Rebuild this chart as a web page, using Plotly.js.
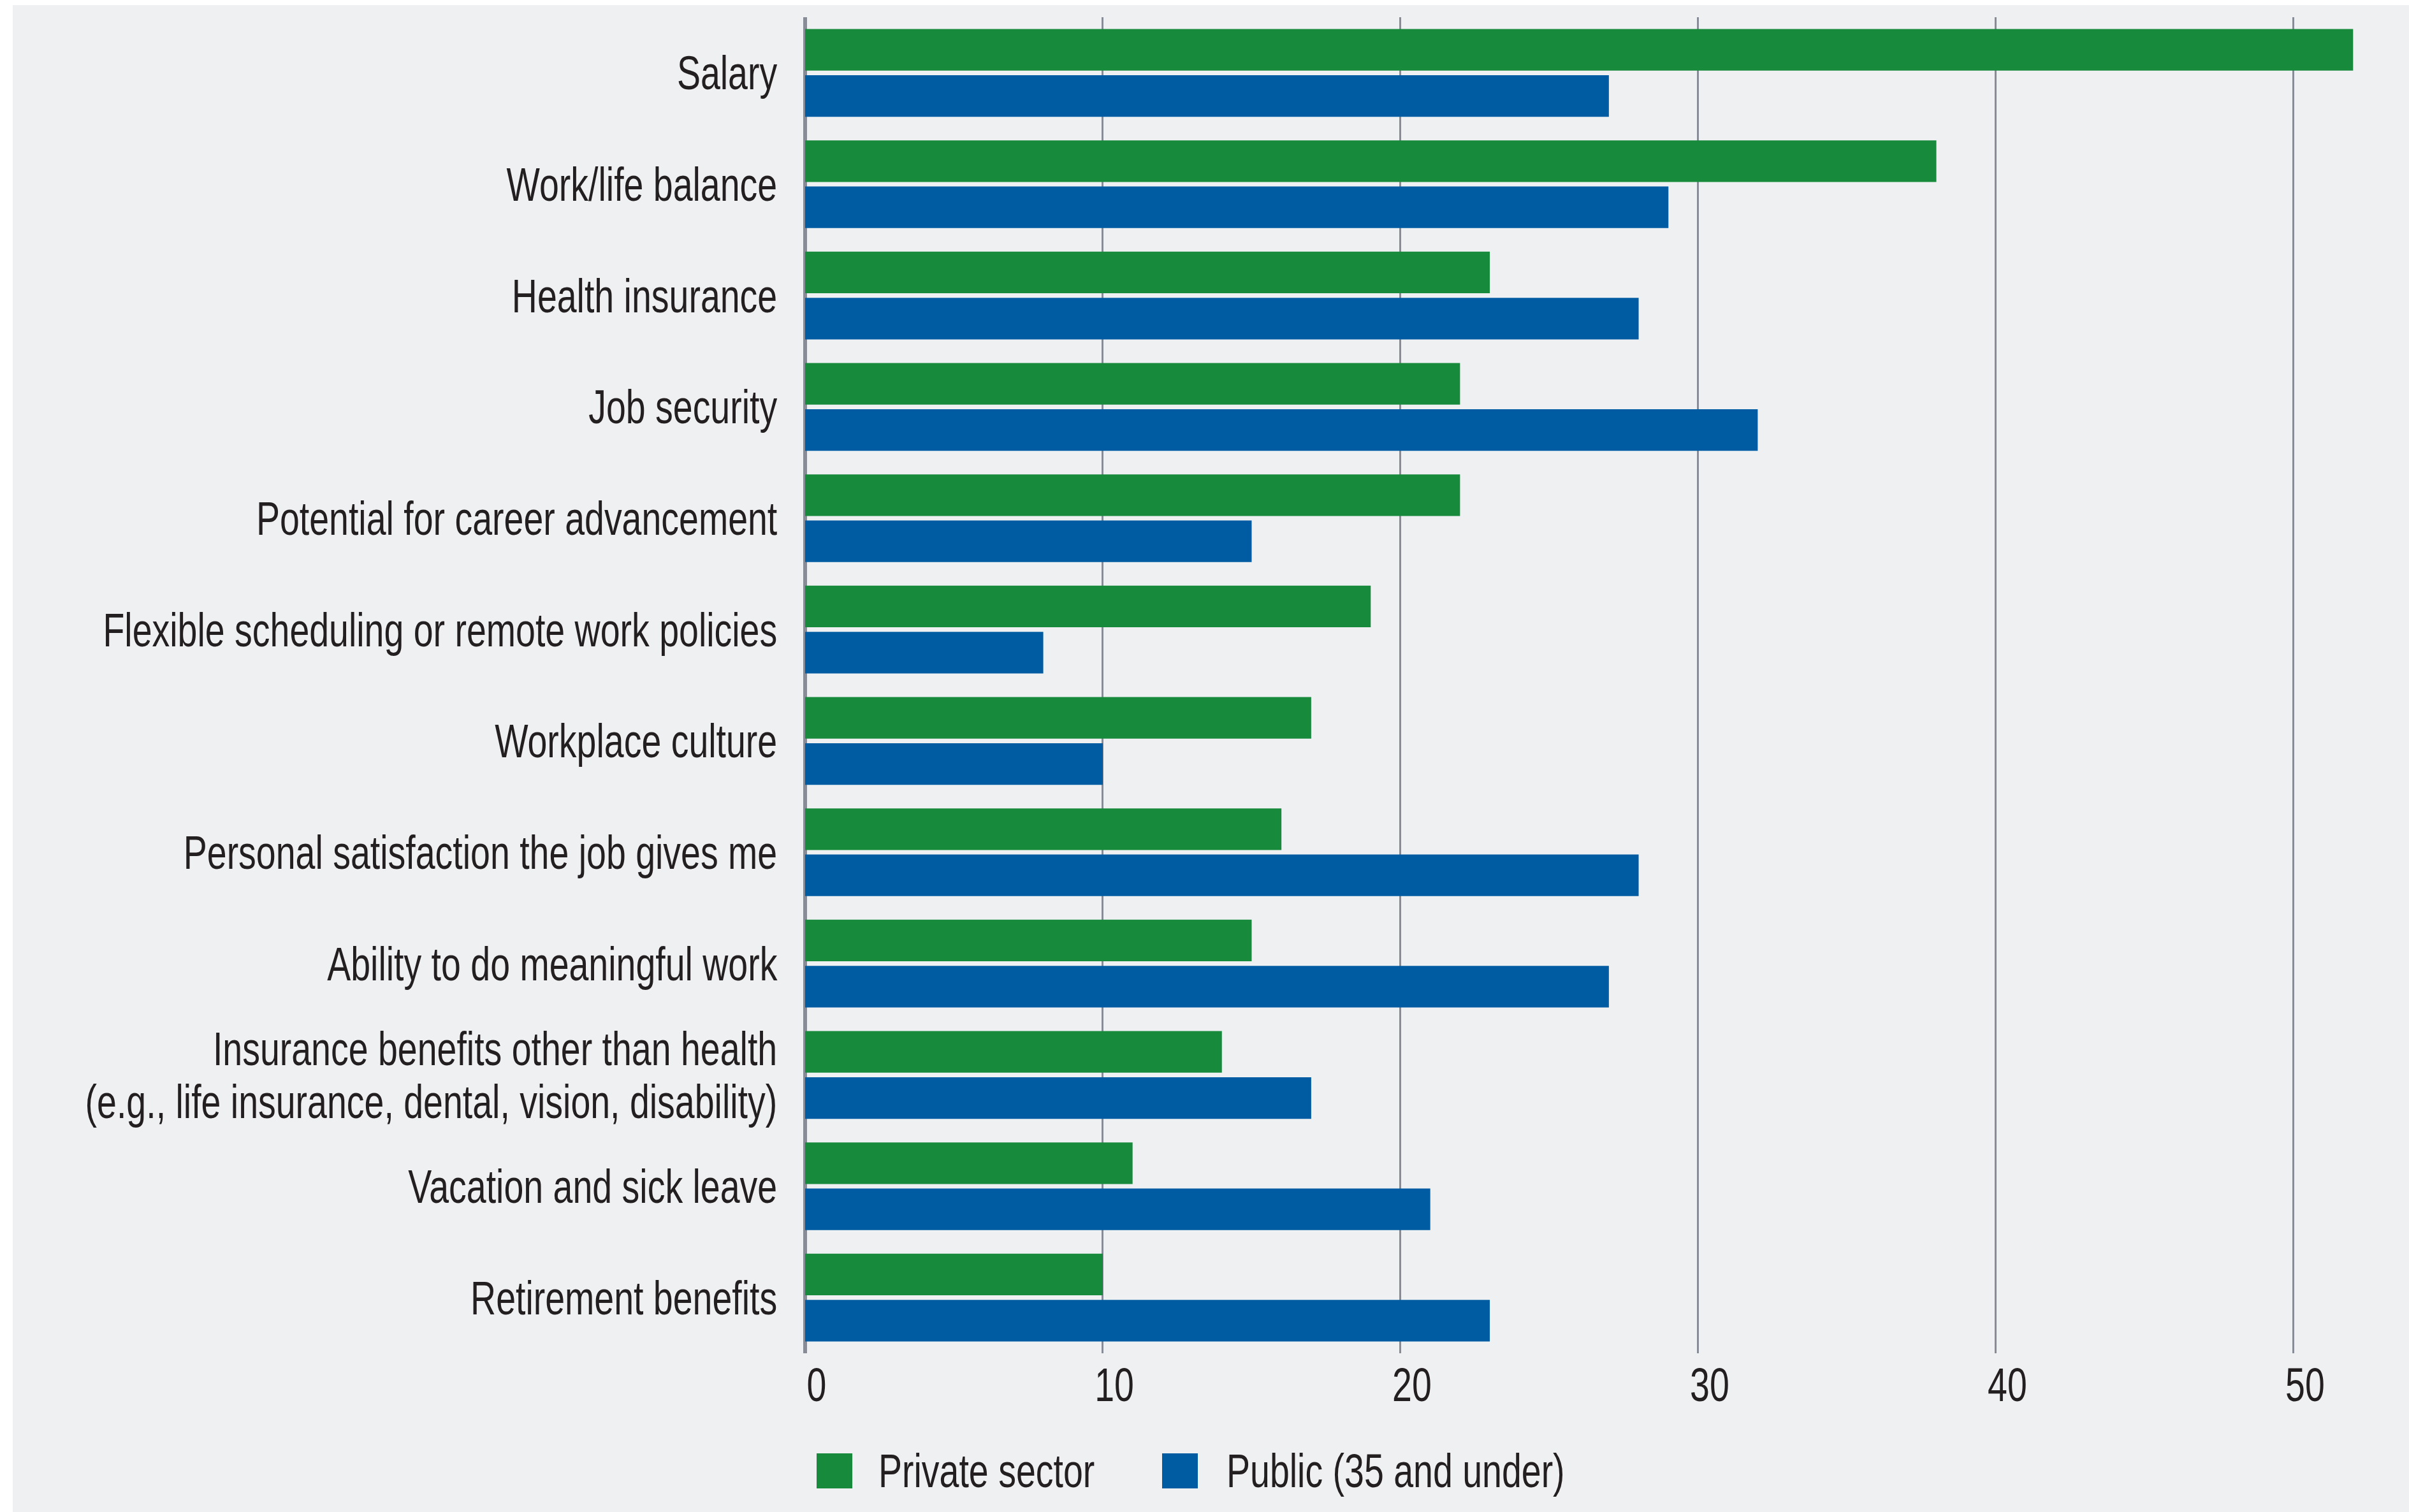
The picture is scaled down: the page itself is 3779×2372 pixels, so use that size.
<!DOCTYPE html>
<html>
<head>
<meta charset="utf-8">
<script src="https://cdn.plot.ly/plotly-3.0.1.min.js"></script>
<style>html,body{margin:0;padding:0;background:#fff;}#chart{width:3779px;height:2372px;}</style>
</head>
<body>
<div id="chart"></div>
<script>
const categories = [
  "Salary",
  "Work/life balance",
  "Health insurance",
  "Job security",
  "Potential for career advancement",
  "Flexible scheduling or remote work policies",
  "Workplace culture",
  "Personal satisfaction the job gives me",
  "Ability to do meaningful work",
  "Insurance benefits other than health<br>(e.g., life insurance, dental, vision, disability)",
  "Vacation and sick leave",
  "Retirement benefits"
];
const privateSector = [52, 38, 23, 22, 22, 19, 17, 16, 15, 14, 11, 10];
const publicUnder35 = [27, 29, 28, 32, 15, 8, 10, 28, 27, 17, 21, 23];
const seriesNames = ["Private sector", "Public (35 and under)"];
const xTicks = [0, 10, 20, 30, 40, 50];

const GREEN = "#178a3c";
const BLUE = "#005ca2";
const FONT = "'Liberation Sans', Arial, sans-serif";
const FS = 74;
const SQUEEZE = 0.75;   // condensed look of the original typeface
const TXT = "#231f20";
const GRID = "#878c97";

const W = 3779, H = 2372;
const M = {l: 1263, r: 41, t: 27, b: 249};
const PW = W - M.l - M.r, PH = H - M.t - M.b;
const px = x => (x - M.l) / PW;
const py = y => (H - M.b - y) / PH;

const traces = [
  {type: "bar", orientation: "h", name: seriesNames[0], y: categories, x: privateSector,
   marker: {color: GREEN}, showlegend: false, hoverinfo: "x+y"},
  {type: "bar", orientation: "h", name: seriesNames[1], y: categories, x: publicUnder35,
   marker: {color: BLUE}, showlegend: false, hoverinfo: "x+y"}
];

const layout = {
  width: W, height: H,
  margin: M,
  paper_bgcolor: "#ffffff",
  plot_bgcolor: "rgba(0,0,0,0)",
  barmode: "group",
  bargap: 0.17,
  bargroupgap: 0.1,
  font: {family: FONT, color: TXT, size: FS},
  xaxis: {
    range: [0, 53], tickvals: xTicks, ticktext: xTicks.map(String),
    showgrid: true, gridcolor: GRID, gridwidth: 3,
    zeroline: true, zerolinecolor: GRID, zerolinewidth: 6,
    showline: false, ticks: "", ticklabelshift: 18,
    tickfont: {family: FONT, size: FS, color: TXT}, fixedrange: true
  },
  yaxis: {
    type: "category", autorange: "reversed",
    showgrid: false, zeroline: false, showline: false,
    ticks: "outside", ticklen: 28, tickcolor: "rgba(0,0,0,0)",
    tickfont: {family: FONT, size: FS, color: TXT}, fixedrange: true
  },
  showlegend: false,
  shapes: [
    {type: "rect", xref: "paper", yref: "paper", layer: "below",
     x0: px(20), x1: px(3779) + 0.01, y0: py(2372) - 0.01, y1: py(8),
     fillcolor: "#eff0f2", line: {width: 0}},
    {type: "rect", xref: "paper", yref: "paper",
     x0: px(1281), x1: px(1337), y0: py(2335), y1: py(2280),
     fillcolor: GREEN, line: {width: 0}},
    {type: "rect", xref: "paper", yref: "paper",
     x0: px(1823), x1: px(1879), y0: py(2335), y1: py(2280),
     fillcolor: BLUE, line: {width: 0}}
  ],
  annotations: [
    {xref: "paper", yref: "paper", x: px(1376), y: py(2307), xanchor: "left", yanchor: "middle",
     text: seriesNames[0], showarrow: false, font: {family: FONT, size: FS, color: TXT}},
    {xref: "paper", yref: "paper", x: px(1922), y: py(2307), xanchor: "left", yanchor: "middle",
     text: seriesNames[1], showarrow: false, font: {family: FONT, size: FS, color: TXT}}
  ]
};

function squeeze(sel, anchor) {
  document.querySelectorAll(sel).forEach(t => {
    const b = t.getBBox();
    const ax = anchor === "end" ? b.x + b.width : anchor === "start" ? b.x : b.x + b.width / 2;
    const prev = t.getAttribute("transform") || "";
    t.setAttribute("transform",
      prev + " translate(" + ax + ",0) scale(" + SQUEEZE + ",1) translate(" + (-ax) + ",0)");
  });
}

function tightenLines(sel, em) {
  document.querySelectorAll(sel).forEach(t => {
    const lines = t.querySelectorAll("tspan.line");
    if (lines.length < 2) return;
    let shift = 0;
    lines.forEach((ln, i) => {
      if (i === 0) return;
      ln.setAttribute("dy", em + "em");
      shift += (1.3 - em) * FS / 2;
    });
    const prev = t.getAttribute("transform") || "";
    t.setAttribute("transform", prev + " translate(0," + shift + ")");
  });
}

Plotly.newPlot("chart", traces, layout, {staticPlot: true, displayModeBar: false}).then(() => {
  tightenLines("#chart .ytick text", 1.12);
  squeeze("#chart .ytick text", "end");
  squeeze("#chart .xtick text", "middle");
  squeeze("#chart .annotation-text", "start");
});
</script>
</body>
</html>
